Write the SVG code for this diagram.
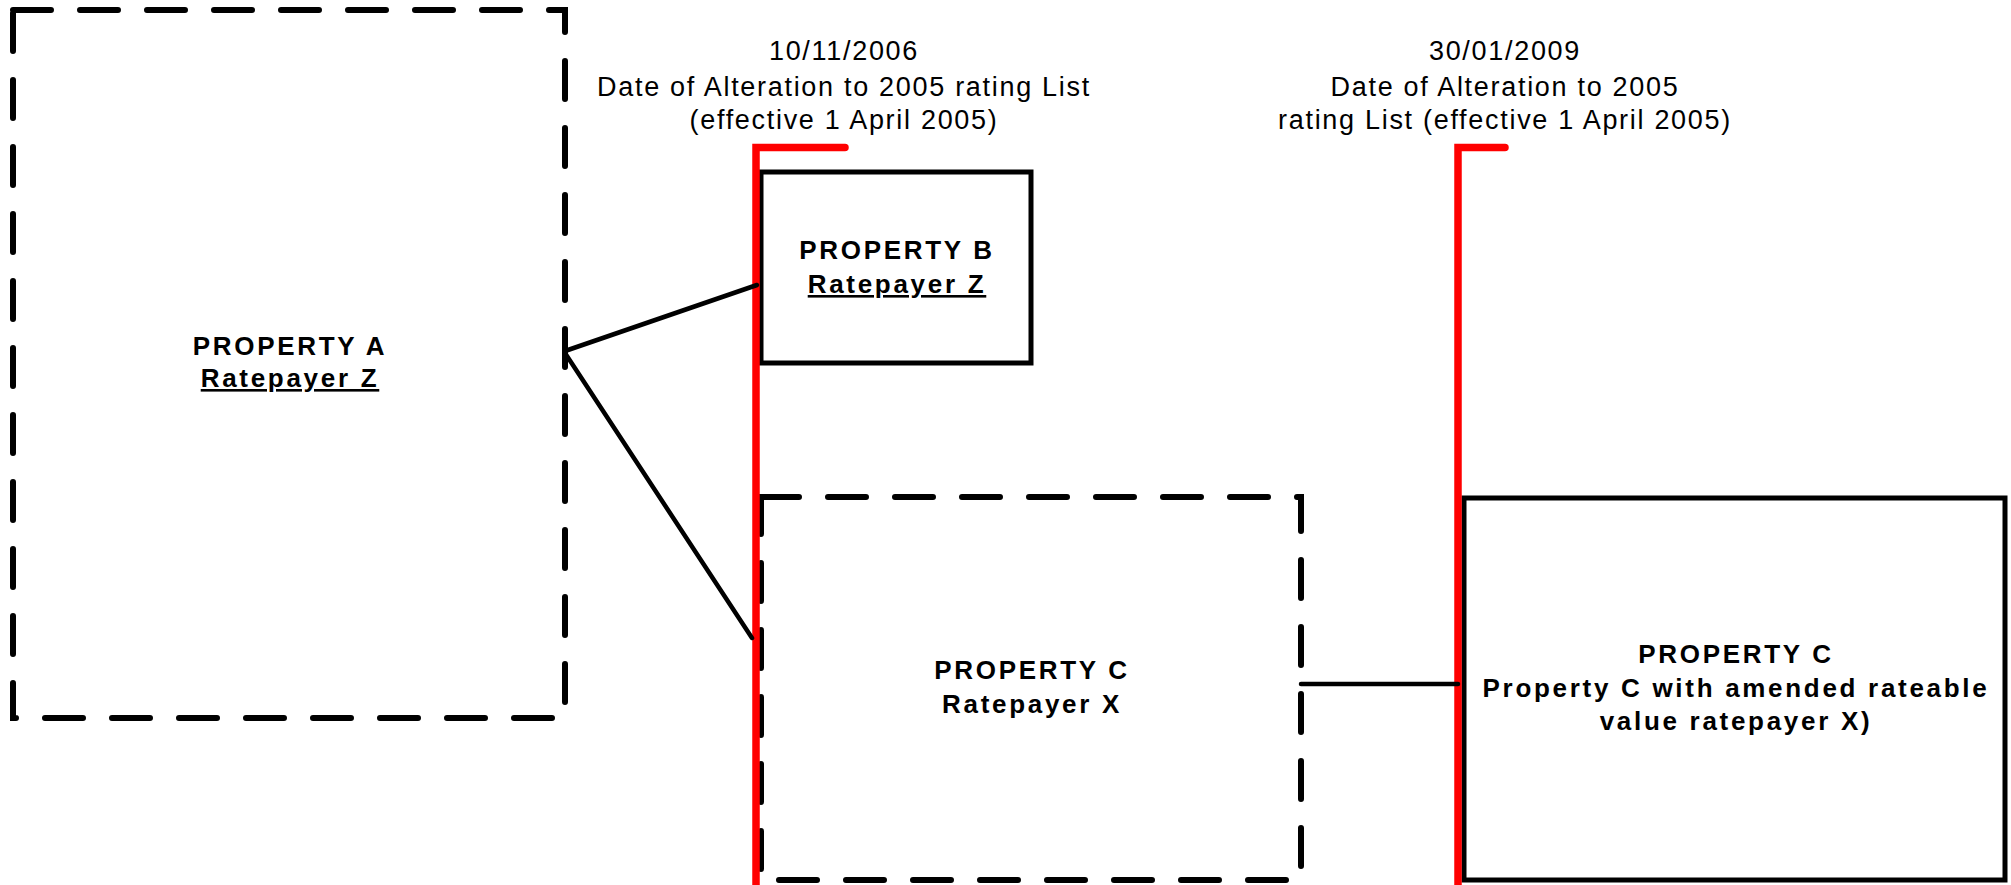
<svg xmlns="http://www.w3.org/2000/svg" width="2011" height="885" viewBox="0 0 2011 885">
<style>
.dash{fill:none;stroke:#000;stroke-width:6;stroke-dasharray:38 29;stroke-linecap:round}
.solid{fill:none;stroke:#000;stroke-width:5;stroke-linejoin:miter}
.red{fill:none;stroke:#ff0000;stroke-width:7.5;stroke-linecap:round;stroke-linejoin:miter}
.conn{fill:none;stroke:#000;stroke-width:4.5;stroke-linecap:round}
.b{font-family:"Liberation Sans",Arial,sans-serif;font-weight:bold;font-size:26px;letter-spacing:2.7px;text-anchor:middle;fill:#000}
.r{font-family:"Liberation Sans",Arial,sans-serif;font-size:27px;letter-spacing:1.7px;text-anchor:middle;fill:#000}
.u{text-decoration:underline}
</style>
<rect width="2011" height="885" fill="#fff"/>
<g id="propertyA">
<path class="dash" d="M13,10 H565 V718 H13 Z"/>
<text class="b" x="290" y="355">PROPERTY A</text>
<text class="b u" x="290" y="387">Ratepayer Z</text>
</g>
<g id="propertyB">
<rect class="solid" x="761" y="172" width="270" height="191"/>
<text class="b" x="897" y="259">PROPERTY B</text>
<text class="b u" x="897" y="293">Ratepayer Z</text>
</g>
<g id="propertyC">
<path class="dash" d="M761,497 H1301 V880 H761 Z"/>
<text class="b" x="1032" y="679">PROPERTY C</text>
<text class="b" x="1032" y="713">Ratepayer X</text>
</g>
<g id="propertyC2">
<rect class="solid" x="1464" y="498" width="541" height="382"/>
<text class="b" x="1736" y="663">PROPERTY C</text>
<text class="b" x="1736" y="697">Property C with amended rateable</text>
<text class="b" x="1736" y="730">value ratepayer X)</text>
</g>
<g id="date1">
<path class="red" d="M756,890 V147.5 H845"/>
<text class="r" x="844" y="60">10/11/2006</text>
<text class="r" x="844" y="96">Date of Alteration to 2005 rating List</text>
<text class="r" x="844" y="129">(effective 1 April 2005)</text>
</g>
<g id="date2">
<path class="red" d="M1458,890 V147.5 H1505"/>
<text class="r" x="1505" y="60">30/01/2009</text>
<text class="r" x="1505" y="96">Date of Alteration to 2005</text>
<text class="r" x="1505" y="129">rating List (effective 1 April 2005)</text>
</g>
<g id="connectors">
<line class="conn" x1="565" y1="351" x2="757" y2="285"/>
<line class="conn" x1="565" y1="353" x2="752" y2="638"/>
<line class="conn" x1="1301" y1="684" x2="1458" y2="684"/>
</g>
</svg>
